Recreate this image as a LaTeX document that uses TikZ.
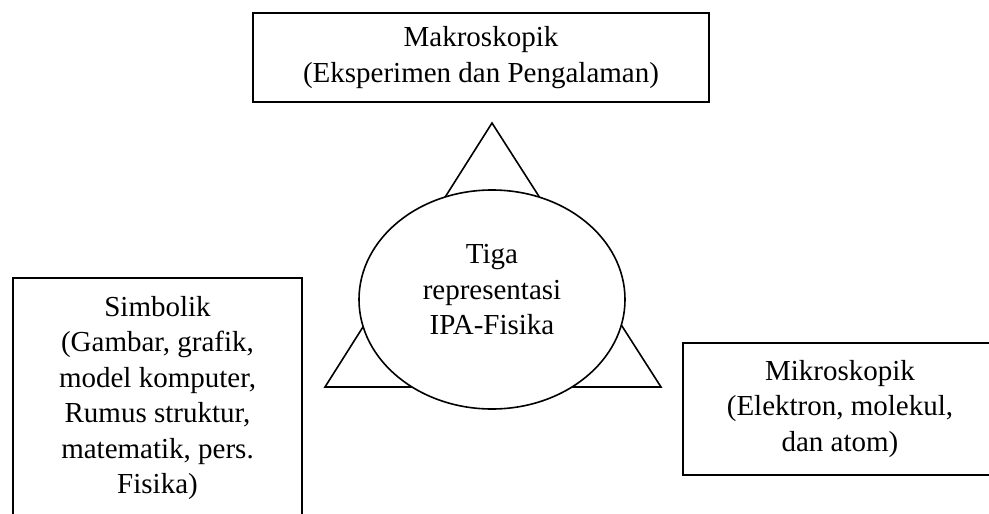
\documentclass[tikz,border=0pt]{standalone}
\usepackage{fontspec}
\setmainfont{Liberation Serif}
\usetikzlibrary{shapes.geometric}
\begin{document}
\begin{tikzpicture}[x=1pt,y=-1pt,
  lw/.style={line width=1.6pt},
  boxed/.style={draw,lw,rectangle,inner sep=0pt},
  txt/.style={align=center,font=\fontsize{29}{35.5}\selectfont,inner sep=0pt}]
\useasboundingbox (0,0) rectangle (989,514);
\clip (0,0) rectangle (989,514);
% triangle
\coordinate (apex) at (492,123);
\coordinate (bl) at (325,387);
\coordinate (br) at (661,387);
\draw[lw,line join=miter] (apex) -- (bl) -- (br) -- cycle;
% ellipse
\node[ellipse,draw,lw,fill=white,minimum width=266,minimum height=219,inner sep=0pt] (ell) at (492,299.5) {};
\node[txt] (ellt) at (492,290) {Tiga\\representasi\\IPA-Fisika};
% top box
\node[boxed,txt,minimum width=456,minimum height=89] (makro) at (481,57.5) {Makroskopik\\(Eksperimen dan Pengalaman)};
% left box
\node[boxed,minimum width=289,minimum height=280,anchor=north] (simb) at (157.5,277) {};
\node[txt] (simbt) at (157.5,398) {Simbolik\\(Gambar, grafik,\\model komputer,\\Rumus struktur,\\matematik, pers.\\Fisika)};
% right box
\node[boxed,txt,minimum width=314,minimum height=132] (mikro) at (840,409) {Mikroskopik\\(Elektron, molekul,\\dan atom)};
\end{tikzpicture}
\end{document}
